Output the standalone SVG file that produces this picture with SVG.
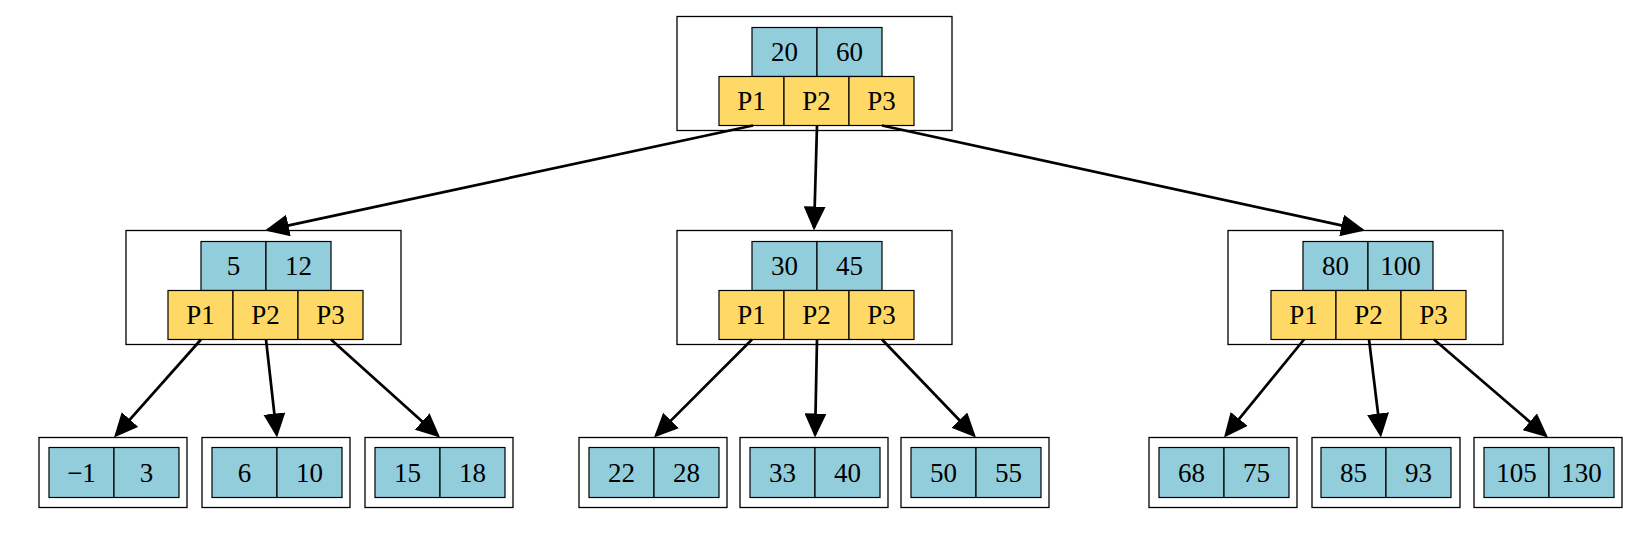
<svg xmlns="http://www.w3.org/2000/svg" width="1648" height="537" viewBox="0 0 1648 537">
<style>
.frame{fill:#fff;stroke:#000;stroke-width:1.3}
.key{fill:#92CDDC;stroke:#000;stroke-width:1.2}
.ptr{fill:#FFD966;stroke:#000;stroke-width:1.2}
text{font-family:"Liberation Serif","DejaVu Serif",serif;font-size:27px;fill:#000;text-anchor:middle}
.edge{stroke:#000;stroke-width:2.7;fill:none;marker-end:url(#ah)}
</style>
<defs>
<marker id="ah" markerUnits="userSpaceOnUse" markerWidth="24" markerHeight="22" refX="21" refY="11" orient="auto">
<path d="M0,0 L24,11 L0,22 z" fill="#000"/>
</marker>
</defs>
<rect width="1648" height="537" fill="#fff"/>

<g id="root">
<rect class="frame" x="677" y="16.5" width="275" height="114"/>
<rect class="key" x="752" y="27.5" width="65" height="49"/>
<rect class="key" x="817" y="27.5" width="65" height="49"/>
<rect class="ptr" x="719" y="76.5" width="65" height="49"/>
<rect class="ptr" x="784" y="76.5" width="65" height="49"/>
<rect class="ptr" x="849" y="76.5" width="65" height="49"/>
<text x="784.5" y="61">20</text><text x="849.5" y="61">60</text>
<text x="751.5" y="110">P1</text><text x="816.5" y="110">P2</text><text x="881.5" y="110">P3</text>
</g>

<g id="n_left">
<rect class="frame" x="126" y="230.5" width="275" height="114"/>
<rect class="key" x="201" y="241.5" width="65" height="49"/>
<rect class="key" x="266" y="241.5" width="65" height="49"/>
<rect class="ptr" x="168" y="290.5" width="65" height="49"/>
<rect class="ptr" x="233" y="290.5" width="65" height="49"/>
<rect class="ptr" x="298" y="290.5" width="65" height="49"/>
<text x="233.5" y="275">5</text><text x="298.5" y="275">12</text>
<text x="200.5" y="324">P1</text><text x="265.5" y="324">P2</text><text x="330.5" y="324">P3</text>
</g>

<g id="n_mid">
<rect class="frame" x="677" y="230.5" width="275" height="114"/>
<rect class="key" x="752" y="241.5" width="65" height="49"/>
<rect class="key" x="817" y="241.5" width="65" height="49"/>
<rect class="ptr" x="719" y="290.5" width="65" height="49"/>
<rect class="ptr" x="784" y="290.5" width="65" height="49"/>
<rect class="ptr" x="849" y="290.5" width="65" height="49"/>
<text x="784.5" y="275">30</text><text x="849.5" y="275">45</text>
<text x="751.5" y="324">P1</text><text x="816.5" y="324">P2</text><text x="881.5" y="324">P3</text>
</g>

<g id="n_right">
<rect class="frame" x="1228" y="230.5" width="275" height="114"/>
<rect class="key" x="1303" y="241.5" width="65" height="49"/>
<rect class="key" x="1368" y="241.5" width="65" height="49"/>
<rect class="ptr" x="1271" y="290.5" width="65" height="49"/>
<rect class="ptr" x="1336" y="290.5" width="65" height="49"/>
<rect class="ptr" x="1401" y="290.5" width="65" height="49"/>
<text x="1335.5" y="275">80</text><text x="1400.5" y="275">100</text>
<text x="1303.5" y="324">P1</text><text x="1368.5" y="324">P2</text><text x="1433.5" y="324">P3</text>
</g>

<g id="leaf1">
<rect class="frame" x="39" y="437.5" width="148" height="70"/>
<rect class="key" x="49" y="447.5" width="65" height="50"/><rect class="key" x="114" y="447.5" width="65" height="50"/>
<text x="81.5" y="481.5">−1</text><text x="146.5" y="481.5">3</text>
</g>
<g id="leaf2">
<rect class="frame" x="202" y="437.5" width="148" height="70"/>
<rect class="key" x="212" y="447.5" width="65" height="50"/><rect class="key" x="277" y="447.5" width="65" height="50"/>
<text x="244.5" y="481.5">6</text><text x="309.5" y="481.5">10</text>
</g>
<g id="leaf3">
<rect class="frame" x="365" y="437.5" width="148" height="70"/>
<rect class="key" x="375" y="447.5" width="65" height="50"/><rect class="key" x="440" y="447.5" width="65" height="50"/>
<text x="407.5" y="481.5">15</text><text x="472.5" y="481.5">18</text>
</g>
<g id="leaf4">
<rect class="frame" x="579" y="437.5" width="148" height="70"/>
<rect class="key" x="589" y="447.5" width="65" height="50"/><rect class="key" x="654" y="447.5" width="65" height="50"/>
<text x="621.5" y="481.5">22</text><text x="686.5" y="481.5">28</text>
</g>
<g id="leaf5">
<rect class="frame" x="740" y="437.5" width="148" height="70"/>
<rect class="key" x="750" y="447.5" width="65" height="50"/><rect class="key" x="815" y="447.5" width="65" height="50"/>
<text x="782.5" y="481.5">33</text><text x="847.5" y="481.5">40</text>
</g>
<g id="leaf6">
<rect class="frame" x="901" y="437.5" width="148" height="70"/>
<rect class="key" x="911" y="447.5" width="65" height="50"/><rect class="key" x="976" y="447.5" width="65" height="50"/>
<text x="943.5" y="481.5">50</text><text x="1008.5" y="481.5">55</text>
</g>
<g id="leaf7">
<rect class="frame" x="1149" y="437.5" width="148" height="70"/>
<rect class="key" x="1159" y="447.5" width="65" height="50"/><rect class="key" x="1224" y="447.5" width="65" height="50"/>
<text x="1191.5" y="481.5">68</text><text x="1256.5" y="481.5">75</text>
</g>
<g id="leaf8">
<rect class="frame" x="1312" y="437.5" width="148" height="70"/>
<rect class="key" x="1321" y="447.5" width="65" height="50"/><rect class="key" x="1386" y="447.5" width="65" height="50"/>
<text x="1353.5" y="481.5">85</text><text x="1418.5" y="481.5">93</text>
</g>
<g id="leaf9">
<rect class="frame" x="1474" y="437.5" width="148" height="70"/>
<rect class="key" x="1484" y="447.5" width="65" height="50"/><rect class="key" x="1549" y="447.5" width="65" height="50"/>
<text x="1516.5" y="481.5">105</text><text x="1581.5" y="481.5">130</text>
</g>

<g id="connectors">
<line class="edge" x1="753" y1="125.5" x2="267.9" y2="229.9"/>
<line class="edge" x1="817" y1="125.5" x2="814.1" y2="227.5"/>
<line class="edge" x1="882" y1="125.5" x2="1362.1" y2="229.9"/>
<line class="edge" x1="201" y1="339.5" x2="116" y2="435.2"/>
<line class="edge" x1="266" y1="339.5" x2="276.7" y2="434.5"/>
<line class="edge" x1="331" y1="339.5" x2="437.8" y2="435.5"/>
<line class="edge" x1="752" y1="339.5" x2="656.1" y2="435.4"/>
<line class="edge" x1="817" y1="339.5" x2="815.1" y2="434.5"/>
<line class="edge" x1="882" y1="339.5" x2="973.9" y2="435.3"/>
<line class="edge" x1="1304" y1="339.5" x2="1225.9" y2="435.2"/>
<line class="edge" x1="1369" y1="339.5" x2="1380.6" y2="434.5"/>
<line class="edge" x1="1434" y1="339.5" x2="1545.7" y2="435.5"/>
</g>
</svg>
